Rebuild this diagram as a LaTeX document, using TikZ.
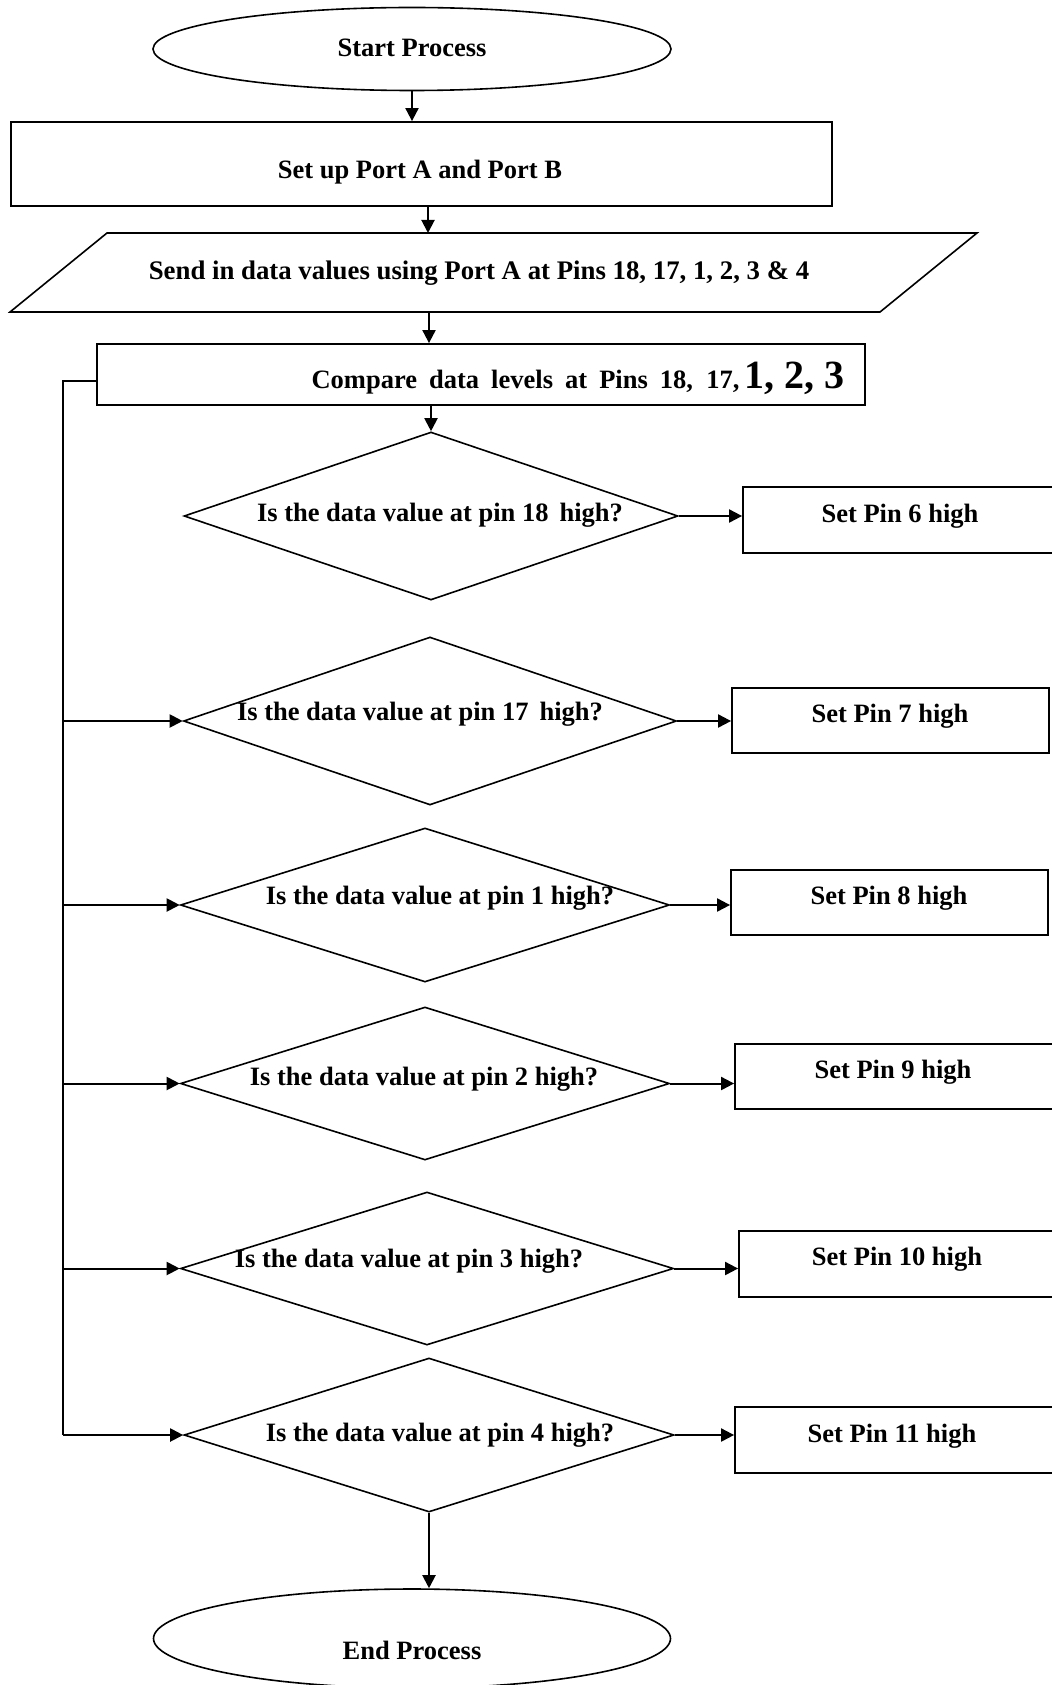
\documentclass[tikz,border=0pt]{standalone}
\usepackage{fontspec}
\setmainfont{Liberation Serif}
\usetikzlibrary{shapes.geometric,arrows.meta}
\begin{document}
\begin{tikzpicture}[x=0.5pt,y=-0.5pt,
  font=\fontsize{13.25}{15}\selectfont\bfseries,
  shp/.style={draw, line width=0.8pt, inner sep=0pt},
  boxn/.style={draw, line width=0.9pt, inner sep=0pt},
  arr/.style={line width=1pt, -{Triangle[length=6.5pt,width=6.5pt]}},
  lnk/.style={line width=0.75pt}
]
\useasboundingbox (0,0) rectangle (1051,1685);

% start / setup
\node[shp, ellipse, minimum width=259pt, minimum height=41.5pt] (start) at (412,49) {};
\node (starttxt) at (412,48) {Start Process};
\node[boxn, minimum width=410.5pt, minimum height=42pt] (setup) at (421.5,164) {};
\node (setuptxt) at (420,172) {Set up Port A and Port B};

% parallelogram
\coordinate (pTL) at (107,233);
\coordinate (pTR) at (977,233);
\coordinate (pBR) at (880,312);
\coordinate (pBL) at (10,312);
\draw[line width=0.8pt] (pTL) -- (pTR) -- (pBR) -- (pBL) -- cycle;
\node[font=\fontsize{13.4}{15}\selectfont\bfseries] (send) at (479,273) {Send in data values using Port A at Pins 18, 17, 1, 2, 3 \& 4};
\coordinate (a2) at (428,233);
\coordinate (a3) at (429,312);

% compare
\node[boxn, minimum width=384pt, minimum height=30.5pt] (cmp) at (481,374.5) {};
\node[anchor=base east, inner sep=0pt] (cmptxt) at (845,388) {\makebox[214pt][s]{Compare data levels at Pins 18, 17,}\hspace{2.5pt}{\fontsize{20}{22}\selectfont 1, 2, 3}};

% diamonds
\node[shp, diamond, minimum width=247pt, minimum height=84pt] (d1) at (431,516) {};
\node[shp, diamond, minimum width=246.5pt, minimum height=84pt] (d2) at (430,721) {};
\node[shp, diamond, minimum width=244.5pt, minimum height=77pt] (d3) at (425,905) {};
\node[shp, diamond, minimum width=244.5pt, minimum height=76.5pt] (d4) at (425,1083.5) {};
\node[shp, diamond, minimum width=246.5pt, minimum height=76.5pt] (d5) at (427,1268.5) {};
\node[shp, diamond, minimum width=245pt, minimum height=77pt] (d6) at (429,1435) {};

\node (t1) at (440,515) {Is the data value at pin 18\,\ high?};
\node (t2) at (420,714) {Is the data value at pin 17\,\ high?};
\node (t3) at (440,898) {Is the data value at pin 1 high?};
\node (t4) at (424,1079) {Is the data value at pin 2 high?};
\node (t5) at (409,1261) {Is the data value at pin 3 high?};
\node (t6) at (440,1435) {Is the data value at pin 4 high?};

% boxes
\node[boxn, minimum width=159pt, minimum height=33pt] (b1) at (902,520) {};
\node[boxn, minimum width=158.5pt, minimum height=32.5pt] (b2) at (890.5,720.5) {};
\node[boxn, minimum width=158.5pt, minimum height=32.5pt] (b3) at (889.5,902.5) {};
\node[boxn, minimum width=159pt, minimum height=32.5pt] (b4) at (894,1076.5) {};
\node[boxn, minimum width=159pt, minimum height=33pt] (b5) at (898,1264) {};
\node[boxn, minimum width=159pt, minimum height=33pt] (b6) at (894,1440) {};
\node (s1) at (900,516) {Set Pin 6 high};
\node (s2) at (890,716) {Set Pin 7 high};
\node (s3) at (889,898) {Set Pin 8 high};
\node (s4) at (893,1072) {Set Pin 9 high};
\node (s5) at (897,1259) {Set Pin 10 high};
\node (s6) at (892,1436) {Set Pin 11 high};

% end
\node[shp, ellipse, minimum width=258.5pt, minimum height=49.5pt] (endn) at (412,1638.5) {};
\node (endtxt) at (412,1650) {End Process};

% main arrows
\draw[arr] (start.south) -- (start.south |- setup.north);
\draw[arr] (setup.south -| a2) -- (a2);
\draw[arr] (a3) -- (a3 |- cmp.north);
\draw[arr] (cmp.south -| d1.north) -- (d1.north);
\draw[arr] (d6.south) -- (d6.south |- endn.north);

% to boxes
\draw[arr] (d1.east) -- (d1.east -| b1.west);
\draw[arr] (d2.east) -- (d2.east -| b2.west);
\draw[arr] (d3.east) -- (d3.east -| b3.west);
\draw[arr] (d4.east) -- (d4.east -| b4.west);
\draw[arr] (d5.east) -- (d5.east -| b5.west);
\draw[arr] (d6.east) -- (d6.east -| b6.west);

% loop line
\coordinate (lp) at (63,381);
\draw[lnk] (cmp.west |- lp) -- (lp) -- (lp |- d6.west);
\draw[arr] (lp |- d2.west) -- (d2.west);
\draw[arr] (lp |- d3.west) -- (d3.west);
\draw[arr] (lp |- d4.west) -- (d4.west);
\draw[arr] (lp |- d5.west) -- (d5.west);
\draw[arr] (lp |- d6.west) -- (d6.west);
\end{tikzpicture}
\end{document}
